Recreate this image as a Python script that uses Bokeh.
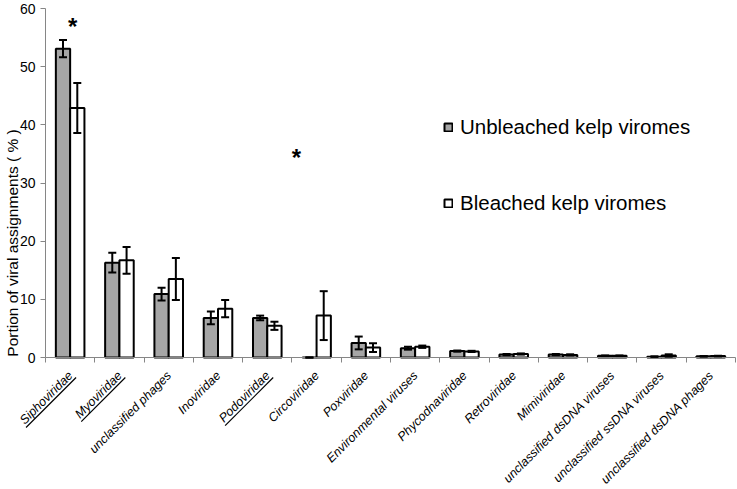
from math import pi, sqrt
from bokeh.plotting import figure
from bokeh.models import (ColumnDataSource, Range1d, FixedTicker, Whisker, TeeHead,
                          Legend, LegendItem, LinearAxis)
from bokeh.transform import dodge
from bokeh.core.properties import value
from bokeh.embed import file_html
from bokeh.resources import INLINE

# ---------------- data ----------------
categories = ["Siphoviridae", "Myoviridae", "unclassified phages", "Inoviridae",
              "Podoviridae", "Circoviridae", "Poxviridae", "Environmental viruses",
              "Phycodnaviridae", "Retroviridae", "Mimiviridae",
              "unclassified dsDNA viruses", "unclassified ssDNA viruses",
              "unclassified dsDNA phages"]
unbleached = [53.1, 16.3, 10.9, 6.8, 6.8, 0.0, 2.5, 1.6, 1.1, 0.5, 0.5, 0.3, 0.15, 0.2]
unbleached_err = [1.5, 1.7, 1.1, 1.1, 0.4, 0.0, 1.1, 0.25, 0.1, 0.1, 0.1, 0.05, 0.05, 0.05]
bleached = [42.9, 16.7, 13.5, 8.4, 5.45, 7.2, 1.7, 1.85, 1.05, 0.6, 0.45, 0.3, 0.35, 0.25]
bleached_err = [4.3, 2.3, 3.6, 1.5, 0.7, 4.2, 0.75, 0.2, 0.1, 0.1, 0.1, 0.05, 0.2, 0.05]
underlined = ["Siphoviridae", "Myoviridae", "Podoviridae"]
significant = ["Siphoviridae", "Circoviridae"]
significant_level = [56.9, 34.4]
y_ticks = [0, 10, 20, 30, 40, 50, 60]
series_labels = ["Unbleached kelp viromes", "Bleached kelp viromes"]
y_title = "Portion of viral assignments ( % )"

# ---------------- layout / style ----------------
FONT = "Liberation Sans"
GRAY = "#a6a6a6"
AXIS_GRAY = "#868686"
N = len(categories)
xc = [i + 0.5 for i in range(N)]

W, H = 737, 489
AX_LEFT, AX_RIGHT = 45, 735    # canvas columns of x = 0 and x = N
AX_TOP, AX_ZERO = 8, 357       # canvas rows of y = 60 and y = 0
SX = (AX_RIGHT - AX_LEFT) / N
SY = (AX_ZERO - AX_TOP) / 60.0

x_range = Range1d(-AX_LEFT / SX, N + (W - AX_RIGHT) / SX)
y_range = Range1d(-(H - AX_ZERO) / SY, 60 + AX_TOP / SY)

src = ColumnDataSource(dict(
    xc=xc, zero=[0] * N, cat=categories,
    unb=unbleached, ble=bleached,
    unb_up=[v + e for v, e in zip(unbleached, unbleached_err)],
    unb_lo=[v - e for v, e in zip(unbleached, unbleached_err)],
    ble_up=[v + e for v, e in zip(bleached, bleached_err)],
    ble_lo=[v - e for v, e in zip(bleached, bleached_err)],
))

p = figure(width=W, height=H, x_range=x_range, y_range=y_range,
           output_backend="svg", toolbar_location=None,
           min_border_left=0, min_border_right=0, min_border_top=0, min_border_bottom=0)
p.grid.visible = False
p.outline_line_color = None

BW = 0.29
OFF = 0.145

r_unb = p.vbar(x=dodge("xc", -OFF, range=p.x_range), top="unb", bottom=0, width=BW,
               source=src, fill_color=GRAY, line_color="black", line_width=2)
r_ble = p.vbar(x=dodge("xc", OFF, range=p.x_range), top="ble", bottom=0, width=BW,
               source=src, fill_color="white", line_color="black", line_width=2)

for off, up, lo in [(-OFF, "unb_up", "unb_lo"), (OFF, "ble_up", "ble_lo")]:
    w = Whisker(base=dodge("xc", off, range=p.x_range), upper=up, lower=lo, source=src,
                line_color="black", line_width=2, level="annotation",
                upper_head=TeeHead(size=8, line_width=2, line_color="black"),
                lower_head=TeeHead(size=8, line_width=2, line_color="black"))
    p.add_layout(w)

# significance asterisks
star_off = {"Siphoviridae": 0.55, "Circoviridae": 0.09}
star_x = [categories.index(c) + star_off[c] for c in significant]
p.text(x=star_x, y=significant_level, text=["*"] * len(significant),
       text_font=value(FONT), text_font_size="24px", text_font_style="bold",
       text_align="center", text_baseline="alphabetic", text_color="black")

# y axis (ticks) drawn at x = 0
ya = p.yaxis[0]
ya.fixed_location = 0
ya.ticker = FixedTicker(ticks=y_ticks)
ya.bounds = (0, 60)
ya.axis_line_color = AXIS_GRAY
ya.major_tick_line_color = AXIS_GRAY
ya.minor_tick_line_color = None
ya.major_tick_out = 5
ya.major_tick_in = 0
ya.major_label_standoff = 5
ya.major_label_text_font = FONT
ya.major_label_text_font_size = "14px"
ya.major_label_text_color = "black"

# y axis title (separate axis so it can sit lower, as in the original)
ya2 = LinearAxis(fixed_location=0, bounds=(-20.6, 60), ticker=FixedTicker(ticks=[]),
                 axis_line_color=None, major_tick_line_color=None, minor_tick_line_color=None,
                 major_tick_out=0, minor_tick_out=0, major_tick_in=0, minor_tick_in=0,
                 axis_label=y_title, axis_label_standoff=25,
                 axis_label_text_font=FONT, axis_label_text_font_size="15.5px",
                 axis_label_text_font_style="normal", axis_label_text_color="black")
p.add_layout(ya2, "left")

# x axis drawn at y = 0, with ticks at category boundaries
xa = p.xaxis[0]
xa.fixed_location = 0
xa.bounds = (0, N)
xa.ticker = FixedTicker(ticks=[], minor_ticks=list(range(N + 1)))
xa.axis_line_color = AXIS_GRAY
xa.major_tick_line_color = None
xa.minor_tick_line_color = AXIS_GRAY
xa.minor_tick_out = 5
xa.minor_tick_in = 0

# category labels, rotated 45 degrees, hanging from y = 0
LBL_SIZE = 12.5
DX, DY = 0.5, 16
p.text(x="xc", y="zero", text="cat", source=src, angle=pi / 4,
       x_offset=DX, y_offset=DY, text_align="right", text_baseline="middle",
       text_font=value(FONT), text_font_size=f"{LBL_SIZE}px", text_font_style="italic",
       text_color="black")

# underlines of the selected labels
text_em = {"Siphoviridae": 5.50, "Myoviridae": 4.83, "Podoviridae": 5.28}
c45 = 1 / sqrt(2)
along = (c45, -c45)   # screen direction of the text (right / up)
perp = (c45, c45)     # screen direction below the text
UL_GAP = 0.35 * LBL_SIZE + 2.3
ux0, uy0, ux1, uy1 = [], [], [], []
for c in underlined:
    i = categories.index(c)
    w_px = text_em[c] * LBL_SIZE
    ex = DX + perp[0] * UL_GAP + along[0] * 1.0
    ey = DY + perp[1] * UL_GAP + along[1] * 1.0
    sx_ = ex - along[0] * (w_px + 2)
    sy_ = ey - along[1] * (w_px + 2)
    ux1.append(i + 0.5 + ex / SX)
    uy1.append(-ey / SY)
    ux0.append(i + 0.5 + sx_ / SX)
    uy0.append(-sy_ / SY)
p.segment(x0=ux0, y0=uy0, x1=ux1, y1=uy1, line_color="black", line_width=1.2)

legend = Legend(items=[LegendItem(label=series_labels[0], renderers=[r_unb]),
                       LegendItem(label=series_labels[1], renderers=[r_ble])],
                location=(443, H - 215), glyph_width=10, glyph_height=10,
                label_text_font=FONT, label_text_font_size="20.5px", label_text_color="black",
                spacing=52, padding=0, margin=0, label_standoff=7,
                border_line_alpha=0, background_fill_alpha=0)
p.add_layout(legend)

open("out.html", "w").write(file_html(p, INLINE))
